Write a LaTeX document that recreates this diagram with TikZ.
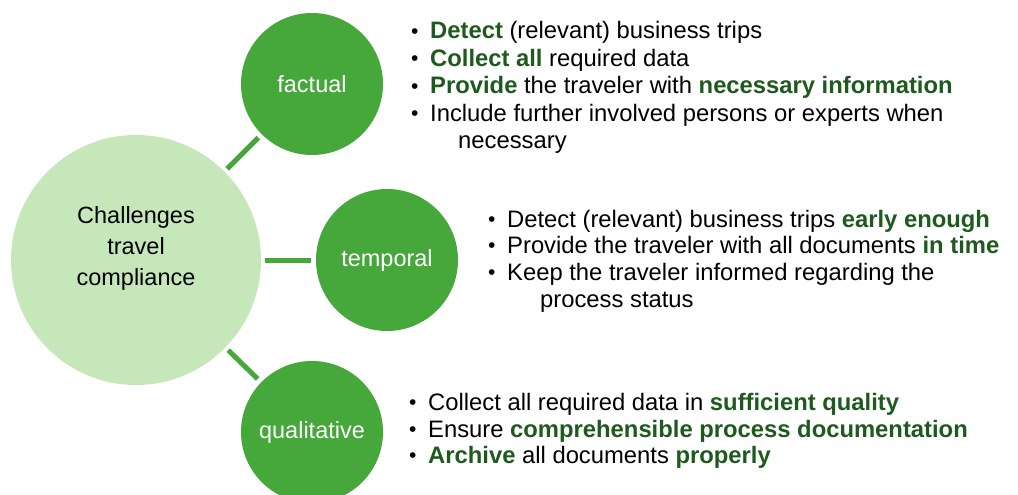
\documentclass[tikz,border=0pt]{standalone}
\usepackage{fontspec}
\setmainfont{Liberation Sans}
\usetikzlibrary{positioning}
\definecolor{cgreen}{RGB}{70,167,58}
\definecolor{clight}{RGB}{198,231,185}
\definecolor{ctext}{RGB}{30,90,30}
\newcommand{\hl}[1]{\textbf{\color{ctext}#1}}
\newcommand{\bul}{\makebox[19.5pt][l]{\hspace{0.5pt}\raisebox{0.8pt}{\fontsize{21}{21}\selectfont •}}}
\tikzset{
  x=1pt, y=-1pt,
  ch_node/.style = {circle, align=center, inner sep=0pt, outer sep=0pt,
    font=\fontsize{23.5}{31}\selectfont},
  ch_main/.style = {ch_node, fill=clight, text=black, minimum size=250pt},
  ch_sub/.style = {ch_node, fill=cgreen, text=white, minimum size=142pt},
  ch_line/.style = {draw=cgreen, line width=5pt, shorten <=4pt, shorten >=5pt},
  item/.style = {anchor=base west, inner sep=0pt, font=\fontsize{23.8}{27.3}\selectfont}
}
\begin{document}
\begin{tikzpicture}
\useasboundingbox (0,0) rectangle (1018,495);
% circles
\node [ch_main] (main) at (136,260) {Challenges\\travel\\compliance\\[-2pt]\mbox{}};
\node [ch_sub] (fact) at (312,84) {factual};
\node [ch_sub] (temp) at (387,260) {temporal};
\node [ch_sub] (qual) at (312,432) {qualitative};
\draw [ch_line] (main) -- (fact);
\draw [ch_line] (main) -- (temp);
\draw [ch_line] (main) -- (qual);
% factual
\node [item] (f1) at (410.5,39) {\bul\hl{Detect} (relevant) business trips};
\node [item] (f2) at (410.5,66.5) {\bul\hl{Collect all} required data};
\node [item] (f3) at (410.5,94) {\bul\hl{Provide} the traveler with \hl{necessary information}};
\node [item] (f4) at (410.5,121.5) {\bul Include further involved persons or experts when};
\node [item] (f4b) at (458,148.5) {necessary};
% temporal
\node [item] (t1) at (487.5,227) {\bul Detect (relevant) business trips \hl{early enough}};
\node [item] (t2) at (487.5,253.5) {\bul Provide the traveler with all documents \hl{in time}};
\node [item] (t3) at (487.5,280) {\bul Keep the traveler informed regarding the};
\node [item] (t3b) at (540,307) {process status};
% qualitative
\node [item] (q1) at (408.5,410) {\bul Collect all required data in \hl{sufficient quality}};
\node [item] (q2) at (408.5,437) {\bul Ensure \hl{comprehensible process documentation}};
\node [item] (q3) at (408.5,463.5) {\bul\hl{Archive} all documents \hl{properly}};
\end{tikzpicture}
\end{document}
